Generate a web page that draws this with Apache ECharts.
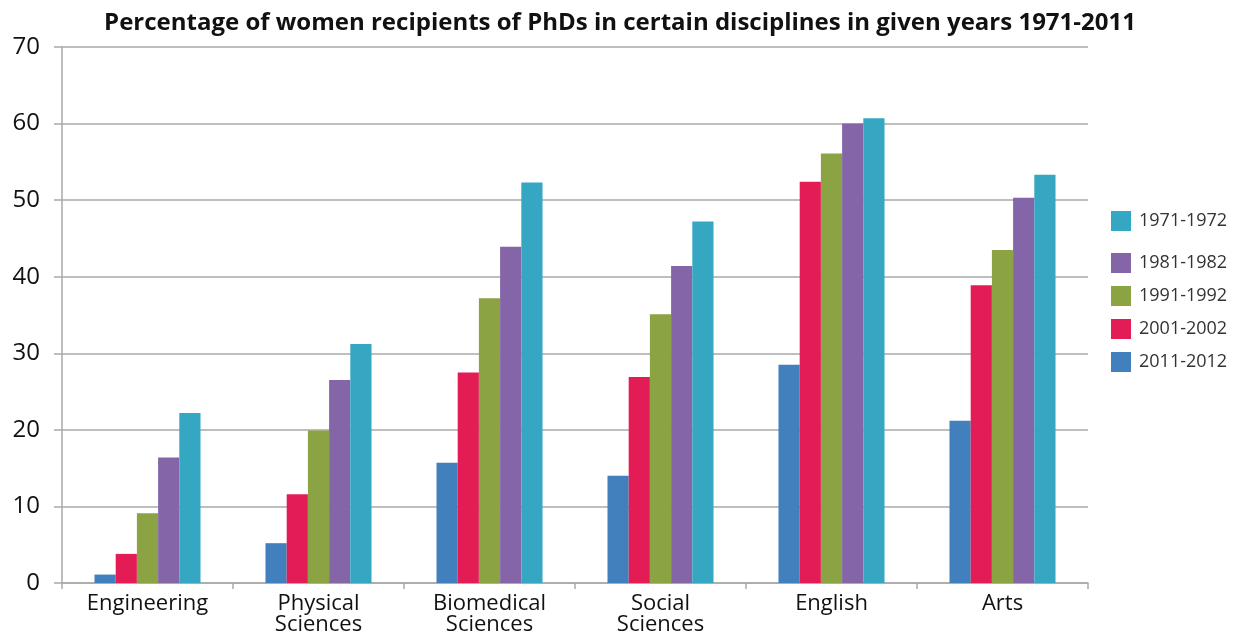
<!DOCTYPE html>
<html>
<head>
<meta charset="utf-8">
<script src="https://cdn.jsdelivr.net/npm/echarts@6/dist/echarts.min.js"></script>
<style>
  html, body { margin: 0; padding: 0; background: #fff; }
  #chart { width: 1240px; height: 632px; }
</style>
</head>
<body>
<div id="chart"></div>
<script>
// Disciplines along the x axis
const categories = ['Engineering', 'Physical\nSciences', 'Biomedical\nSciences', 'Social\nSciences', 'English', 'Arts'];

// Percentage of PhDs awarded to women, one array per period
const y2011 = [1.1, 5.2, 15.7, 14.0, 28.5, 21.2];
const y2001 = [3.8, 11.6, 27.5, 26.9, 52.4, 38.9];
const y1991 = [9.1, 19.9, 37.2, 35.1, 56.1, 43.5];
const y1981 = [16.4, 26.5, 43.9, 41.4, 60.0, 50.3];
const y1971 = [22.2, 31.2, 52.3, 47.2, 60.7, 53.3];

const yTicks = [0, 10, 20, 30, 40, 50, 60, 70];

const FONT = '"Open Sans", "Noto Sans", sans-serif';
const GRID_GRAY = '#a9a9a9';

const seriesDefs = [
  { name: '2011-2012', data: y2011, color: '#4180bd' },
  { name: '2001-2002', data: y2001, color: '#e31c56' },
  { name: '1991-1992', data: y1991, color: '#8ba343' },
  { name: '1981-1982', data: y1981, color: '#8465a7' },
  { name: '1971-1972', data: y1971, color: '#35a7c3' }
];

const legendText = { fontFamily: FONT, fontSize: 18, color: '#333', padding: [0, 0, 0, 3] };

const chart = echarts.init(document.getElementById('chart'), null, { renderer: 'canvas' });

chart.setOption({
  animation: false,
  backgroundColor: '#ffffff',
  title: {
    text: 'Percentage of women recipients of PhDs in certain disciplines in given years 1971-2011',
    left: 'center',
    top: 6,
    textStyle: { fontFamily: FONT, fontWeight: 'bold', fontSize: 24, color: '#111' }
  },
  legend: [
    {
      data: ['1971-1972'],
      orient: 'vertical',
      left: 1106,
      top: 206,
      icon: 'rect',
      itemWidth: 20,
      itemHeight: 20,
      textStyle: legendText
    },
    {
      data: ['1981-1982', '1991-1992', '2001-2002', '2011-2012'],
      orient: 'vertical',
      left: 1106,
      top: 248,
      itemGap: 13,
      icon: 'rect',
      itemWidth: 20,
      itemHeight: 20,
      textStyle: legendText
    }
  ],
  grid: { left: 62, right: 152, top: 47, bottom: 49, containLabel: false, outerBoundsMode: 'none' },
  xAxis: {
    type: 'category',
    data: categories,
    axisLine: { show: true, lineStyle: { color: GRID_GRAY, width: 1.5 } },
    axisTick: { show: true, length: 6, lineStyle: { color: GRID_GRAY, width: 1.5 } },
    axisLabel: {
      fontFamily: FONT,
      fontSize: 22,
      lineHeight: 21,
      color: '#111',
      margin: 10,
      interval: 0
    }
  },
  yAxis: {
    type: 'value',
    min: yTicks[0],
    max: yTicks[yTicks.length - 1],
    interval: 10,
    axisLine: { show: true, lineStyle: { color: GRID_GRAY, width: 1.5 } },
    axisTick: { show: true, length: 8, lineStyle: { color: GRID_GRAY, width: 1.5 } },
    splitLine: { show: true, lineStyle: { color: GRID_GRAY, width: 1.5 } },
    axisLabel: { fontFamily: FONT, fontSize: 24, color: '#111', margin: 22 }
  },
  series: seriesDefs.map(s => ({
    name: s.name,
    type: 'bar',
    data: s.data,
    barGap: '0%',
    barCategoryGap: '38%',
    itemStyle: { color: s.color }
  }))
});
</script>
</body>
</html>
